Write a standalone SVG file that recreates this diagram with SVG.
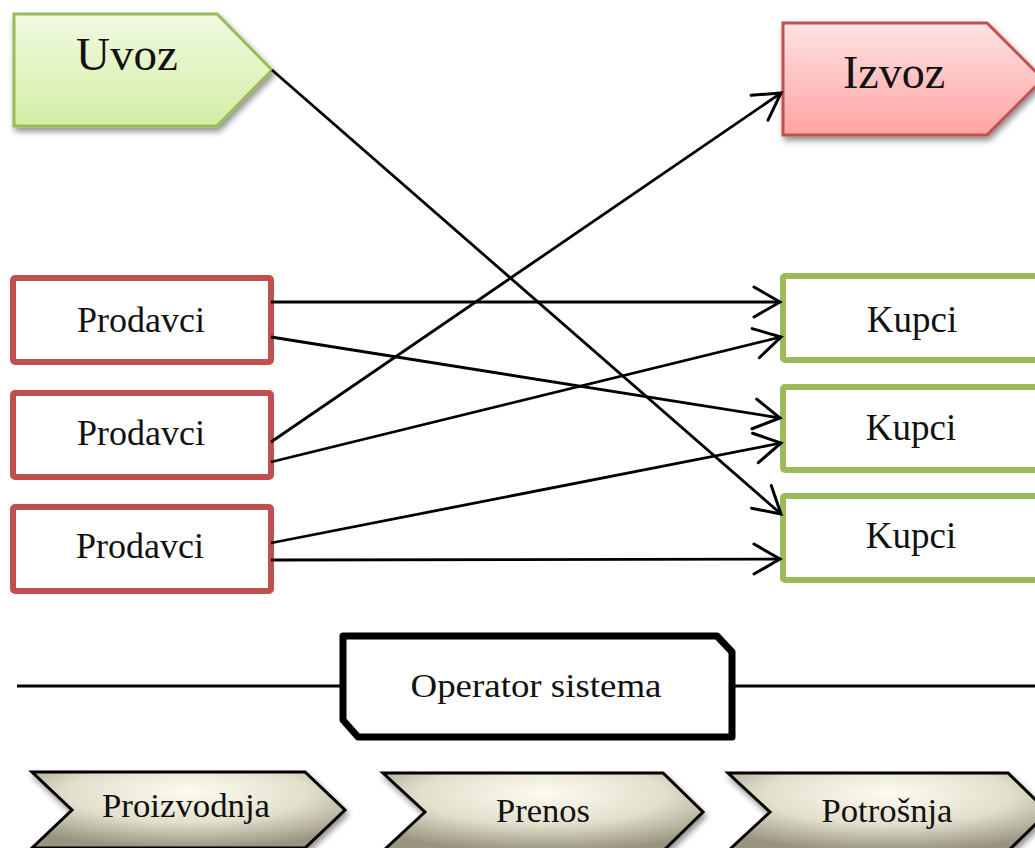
<svg xmlns="http://www.w3.org/2000/svg" width="1035" height="848" viewBox="0 0 1035 848">
  <defs>
    <linearGradient id="gradGreen" x1="0" y1="0" x2="0" y2="1">
      <stop offset="0" stop-color="#F1FAE2"/>
      <stop offset="1" stop-color="#D3EEA4"/>
    </linearGradient>
    <linearGradient id="gradRed" x1="0" y1="0" x2="0" y2="1">
      <stop offset="0" stop-color="#FFE2E2"/>
      <stop offset="1" stop-color="#FFA3A3"/>
    </linearGradient>
    <radialGradient id="gradMetal" cx="0.5" cy="0.3" r="0.7" fx="0.5" fy="0.25">
      <stop offset="0" stop-color="#FEFCF0"/>
      <stop offset="0.55" stop-color="#E2DFCD"/>
      <stop offset="1" stop-color="#98947F"/>
    </radialGradient>
    <filter id="shadow" x="-10%" y="-10%" width="125%" height="135%">
      <feGaussianBlur in="SourceAlpha" stdDeviation="3"/>
      <feOffset dx="2" dy="4" result="blur"/>
      <feComponentTransfer><feFuncA type="linear" slope="0.45"/></feComponentTransfer>
      <feMerge><feMergeNode/><feMergeNode in="SourceGraphic"/></feMerge>
    </filter>
    <marker id="arrowOpen" markerUnits="userSpaceOnUse" markerWidth="40" markerHeight="40" viewBox="-30 -20 40 40" refX="0" refY="0" orient="auto" overflow="visible">
      <path d="M-26,-15 L0,0 L-26,15" fill="none" stroke="#000" stroke-width="3" stroke-linecap="round" stroke-linejoin="miter"/>
    </marker>
  </defs>
  <style>
    .lbl { font-family: "Liberation Serif", "Times New Roman", serif; fill: #111; text-anchor: middle; }
    .seller { fill: #fff; stroke: #C0504D; stroke-width: 6; }
    .buyer { fill: #fff; stroke: #9BBB59; stroke-width: 6; }
    .conn { stroke: #000; stroke-width: 2.8; fill: none; }
    .chev { fill: url(#gradMetal); stroke: #000; stroke-width: 3; stroke-linejoin: miter; filter: url(#shadow); }
  </style>

  <rect width="1035" height="848" fill="#fff"/>

  <!-- Import / export -->
  <g id="uvoz">
    <path d="M14,14 L217,14 L272,70 L217,126 L14,126 Z" fill="url(#gradGreen)" stroke="#9BBB59" stroke-width="3" filter="url(#shadow)"/>
    <text class="lbl" x="127" y="70" font-size="47">Uvoz</text>
  </g>
  <g id="izvoz">
    <path d="M783,23 L987,23 L1043,79 L987,135 L783,135 Z" fill="url(#gradRed)" stroke="#C0504D" stroke-width="3" filter="url(#shadow)"/>
    <text class="lbl" x="894" y="88" font-size="46">Izvoz</text>
  </g>

  <!-- Sellers -->
  <g id="prodavci1">
    <rect class="seller" x="13" y="278" width="258" height="84" rx="2"/>
    <text class="lbl" x="141" y="332" font-size="36">Prodavci</text>
  </g>
  <g id="prodavci2">
    <rect class="seller" x="13" y="393" width="258" height="84" rx="2"/>
    <text class="lbl" x="141" y="445" font-size="36">Prodavci</text>
  </g>
  <g id="prodavci3">
    <rect class="seller" x="13" y="507" width="258" height="84" rx="2"/>
    <text class="lbl" x="140" y="558" font-size="36">Prodavci</text>
  </g>

  <!-- Buyers -->
  <g id="kupci1">
    <rect class="buyer" x="783" y="276" width="262" height="84" rx="2"/>
    <text class="lbl" x="912" y="332" font-size="37">Kupci</text>
  </g>
  <g id="kupci2">
    <rect class="buyer" x="783" y="387" width="262" height="83" rx="2"/>
    <text class="lbl" x="911" y="440" font-size="37">Kupci</text>
  </g>
  <g id="kupci3">
    <rect class="buyer" x="783" y="496" width="262" height="84" rx="2"/>
    <text class="lbl" x="911" y="548" font-size="37">Kupci</text>
  </g>

  <!-- Flows -->
  <g id="connectors">
    <line class="conn" x1="272" y1="70" x2="781" y2="514" marker-end="url(#arrowOpen)"/>
    <line class="conn" x1="271" y1="302" x2="780" y2="302" marker-end="url(#arrowOpen)"/>
    <line class="conn" x1="271" y1="337" x2="780" y2="418" marker-end="url(#arrowOpen)"/>
    <line class="conn" x1="271" y1="442" x2="781" y2="93" marker-end="url(#arrowOpen)"/>
    <line class="conn" x1="271" y1="462" x2="781" y2="337" marker-end="url(#arrowOpen)"/>
    <line class="conn" x1="271" y1="543" x2="781" y2="443" marker-end="url(#arrowOpen)"/>
    <line class="conn" x1="271" y1="560" x2="780" y2="559" marker-end="url(#arrowOpen)"/>
    <line class="conn" x1="17" y1="686" x2="343" y2="686" stroke-width="3"/>
    <line class="conn" x1="732" y1="686" x2="1035" y2="686" stroke-width="3"/>
  </g>

  <!-- System operator -->
  <g id="operator">
    <path d="M343,636 L717,636 L732,652 L732,737 L358,737 L343,720 Z" fill="#fff" stroke="#000" stroke-width="7" stroke-linejoin="round"/>
    <text class="lbl" x="536" y="697" font-size="34" textLength="251" lengthAdjust="spacingAndGlyphs">Operator sistema</text>
  </g>

  <!-- Value chain -->
  <g id="proizvodnja">
    <path class="chev" d="M32,772 L305,772 L345,810 L305,848 L32,848 L72,810 Z"/>
    <text class="lbl" x="186" y="817" font-size="33" textLength="168" lengthAdjust="spacingAndGlyphs">Proizvodnja</text>
  </g>
  <g id="prenos">
    <path class="chev" d="M383,773 L663,773 L703,812 L663,851 L383,851 L425,812 Z"/>
    <text class="lbl" x="543" y="822" font-size="33" textLength="94" lengthAdjust="spacingAndGlyphs">Prenos</text>
  </g>
  <g id="potrosnja">
    <path class="chev" d="M728,773 L1008,773 L1048,812 L1008,851 L728,851 L770,812 Z"/>
    <text class="lbl" x="887" y="822" font-size="33" textLength="131" lengthAdjust="spacingAndGlyphs">Potrošnja</text>
  </g>
</svg>
